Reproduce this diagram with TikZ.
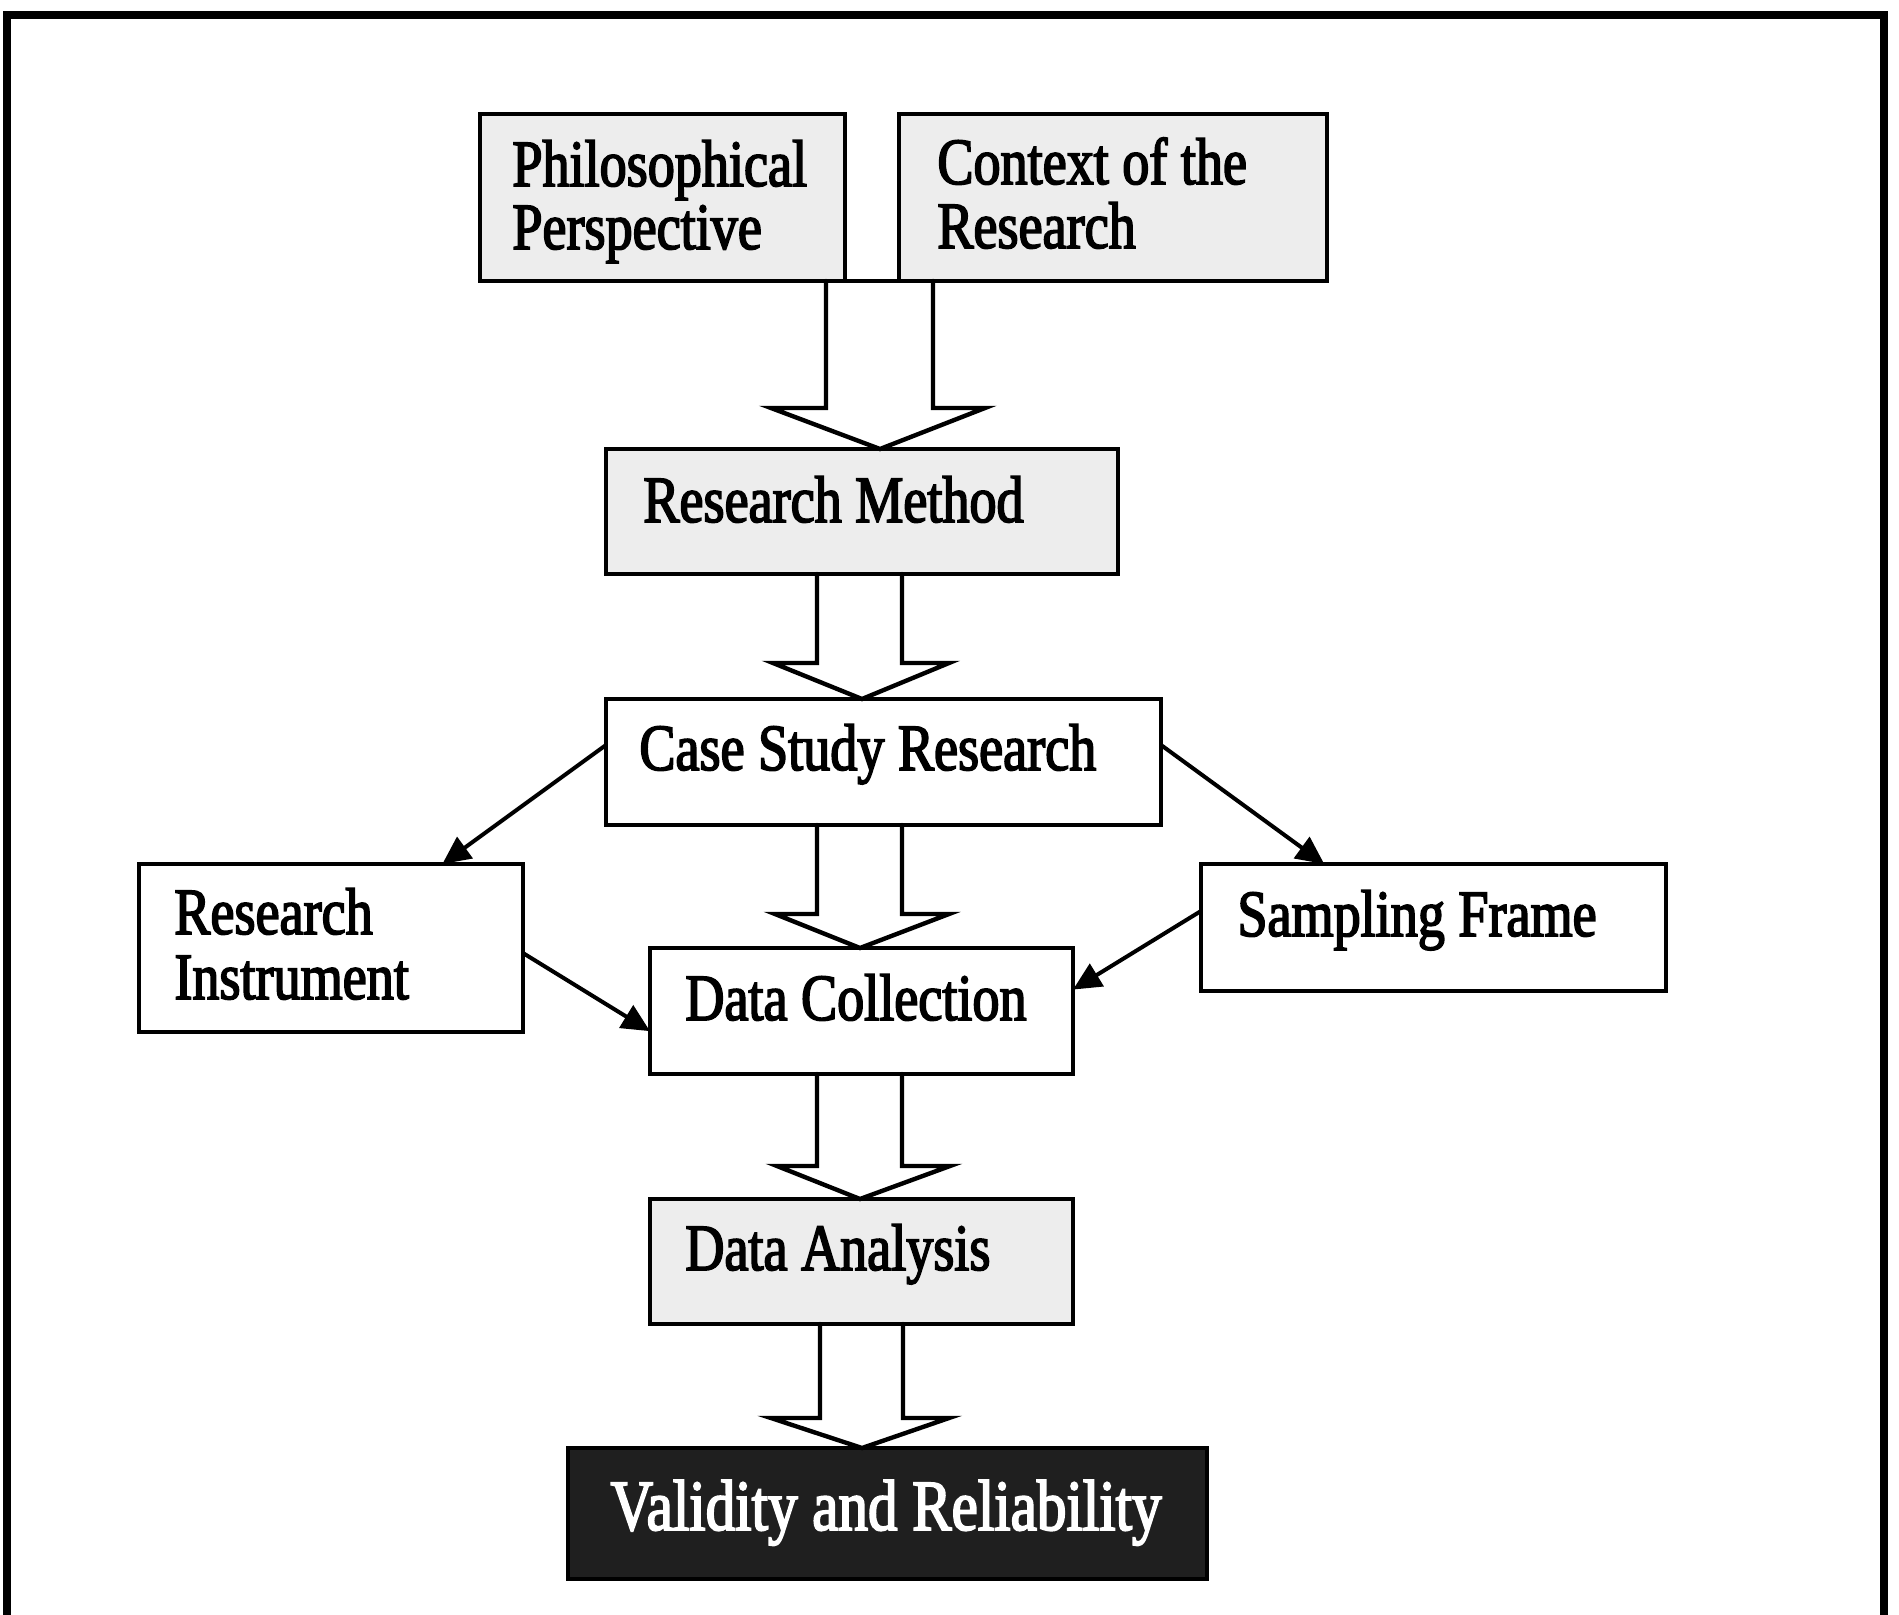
\documentclass[tikz,border=0pt]{standalone}
\usepackage{fontspec}
\newfontfamily\labelfont{Liberation Serif}[FakeStretch=0.82,FakeBold=2.5]
\usetikzlibrary{calc,fit,arrows.meta}

% outlined block arrow: #1 source node, #2 tip coordinate,
% #3/#4 left/right shaft offsets, #5/#6 left/right wing offsets, #7 head height
\newcommand\blkarrow[7]{%
  \draw[blk] let \p1=(#2), \p2=(#1.south) in
    (\x1-#3,\y2) -- (\x1-#3,\y1+#7) -- (\x1-#5,\y1+#7) -- (\p1)
    -- (\x1+#6,\y1+#7) -- (\x1+#4,\y1+#7) -- (\x1+#4,\y2);}

\begin{document}
\begin{tikzpicture}[x=0.5pt,y=-0.5pt,
  box/.style={draw,line width=2.2pt,inner sep=0pt,outer sep=0pt,rectangle},
  stipplebox/.style={box,fill=black!7},
  darkbox/.style={box,fill=black!88},
  txt/.style={inner sep=0pt,anchor=base west,font=\labelfont\fontsize{33}{32}\selectfont},
  blk/.style={draw,line width=2.2pt,line join=miter,line cap=round},
  link/.style={draw,line width=2pt,-{Triangle[length=14pt,width=13pt]}},
]
\useasboundingbox (0,0) rectangle (1899,1615);

% page frame (open at the bottom)
\draw[line width=4.3pt] (7,1615) -- (7,15) -- (1884,15) -- (1884,1615);

% boxes
\node[stipplebox,fit={(480,114) (845,281)}] (phil) {};
\node[stipplebox,fit={(899,114) (1327,281)}] (ctx) {};
\draw[line width=2.2pt] (phil.south east) -- (ctx.south west);
\node[stipplebox,fit={(606,449) (1118,574)}] (rm) {};
\node[box,fit={(606,699) (1161,825)}] (csr) {};
\node[box,fit={(139,864) (523,1032)}] (ri) {};
\node[box,fit={(1201,864) (1666,991)}] (sf) {};
\node[box,fit={(650,948) (1073,1074)}] (dc) {};
\node[stipplebox,fit={(650,1199) (1073,1324)}] (da) {};
\node[darkbox,fit={(568,1448) (1207,1579)}] (vr) {};

% labels
\node[txt] (phil-a) at (512,186) {Philosophical};
\node[txt] (phil-b) at (512,249) {Perspective};
\node[txt] (ctx-a) at (937,184) {Context of the};
\node[txt] (ctx-b) at (937,248) {Research};
\node[txt] (rm-t) at (643,522) {Research Method};
\node[txt] (csr-t) at (639,770) {Case Study Research};
\node[txt] (ri-a) at (174,934) {Research};
\node[txt] (ri-b) at (174,999) {Instrument};
\node[txt] (sf-t) at (1237,936) {Sampling Frame};
\node[txt] (dc-t) at (685,1020) {Data Collection};
\node[txt] (da-t) at (685,1270) {Data Analysis};
\node[txt,anchor=base,text=white,font=\labelfont\fontsize{36}{34}\selectfont] (vr-t) at (886,1530) {Validity and Reliability};

% tips of the block arrows
\coordinate (tip1) at ($(rm.north)+(18,0)$);
\coordinate (tip2) at ($(csr.north)+(-21.5,0)$);
\coordinate (tip3) at ($(dc.north)+(-1.5,0)$);
\coordinate (tip4) at ($(da.north)+(-1.5,0)$);
\coordinate (tip5) at ($(vr.north)+(-25.5,0)$);

\blkarrow{phil}{tip1}{27pt}{26.5pt}{54.5pt}{52.5pt}{20.5pt}
\blkarrow{rm}{tip2}{22.5pt}{20pt}{44.5pt}{43.5pt}{18pt}
\blkarrow{csr}{tip3}{21.5pt}{21pt}{42.5pt}{44.5pt}{17pt}
\blkarrow{dc}{tip4}{21.5pt}{21pt}{41.5pt}{45pt}{16.5pt}
\blkarrow{da}{tip5}{21pt}{20.5pt}{45.5pt}{43.5pt}{15pt}

% plain arrows
\draw[link] ($(csr.north west)!0.365!(csr.south west)$) -- ($(ri.north west)!0.79!(ri.north east)$);
\draw[link] ($(csr.north east)!0.365!(csr.south east)$) -- ($(sf.north west)!0.265!(sf.north east)$);
\draw[link] ($(ri.north east)!0.53!(ri.south east)$) -- ($(dc.north west)!0.66!(dc.south west)$);
\draw[link] ($(sf.north west)!0.37!(sf.south west)$) -- ($(dc.north east)!0.33!(dc.south east)$);
\end{tikzpicture}
\end{document}
